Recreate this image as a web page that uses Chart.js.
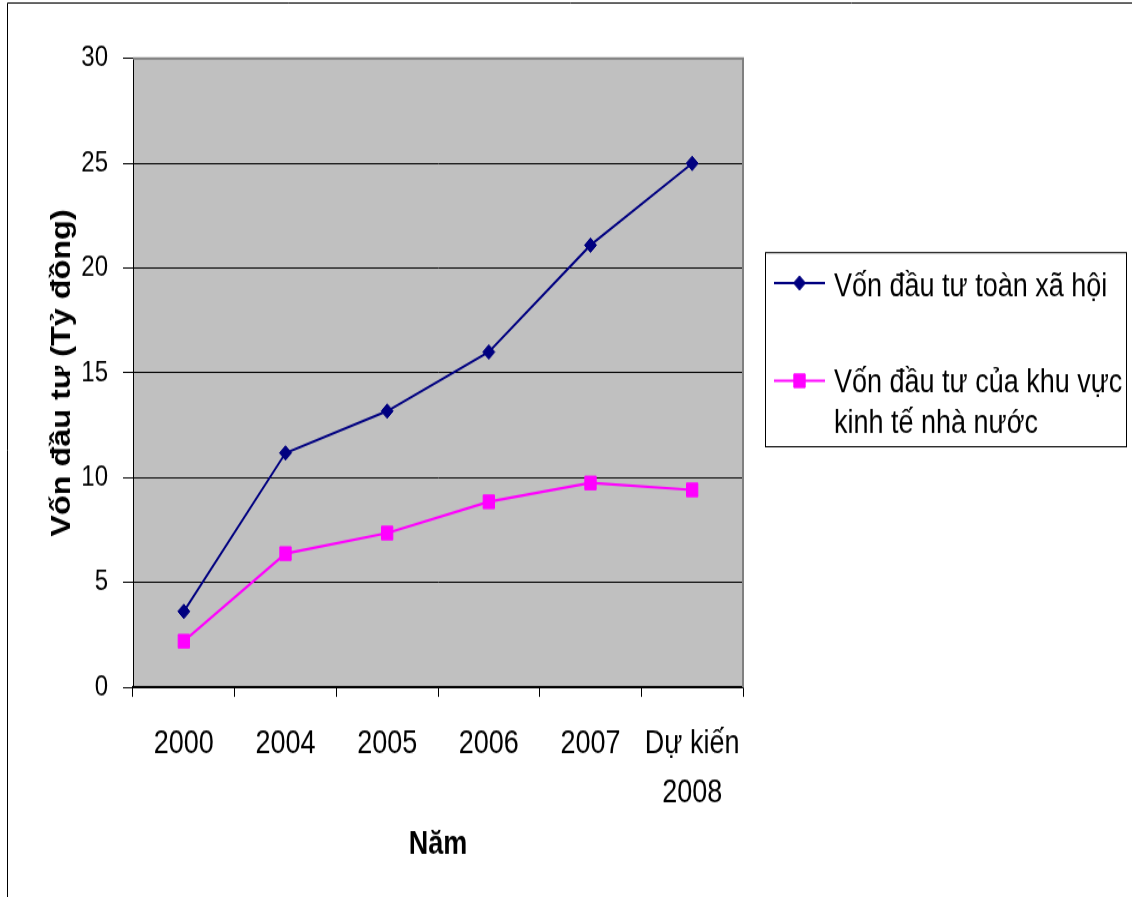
<!DOCTYPE html>
<html>
<head>
<meta charset="utf-8">
<title>Vốn đầu tư</title>
<script src="https://cdn.jsdelivr.net/npm/chart.js@4.4.1/dist/chart.umd.min.js"></script>
<style>
  html, body { margin: 0; padding: 0; background: #ffffff; overflow: hidden; }
  #wrap { position: absolute; left: 0; top: 0; width: 1132px; height: 748px;
          transform-origin: 0 0; transform: scale(1, 1.19920); }
  canvas { display: block; }
</style>
</head>
<body>
<div id="wrap"><canvas id="chart" width="1132" height="748"></canvas></div>
<script>
// ---- data ----
const categories = ['2000', '2004', '2005', '2006', '2007', ['Dự kiến', '2008']];
const totalInvestment = [3.62, 11.18, 13.18, 16.0, 21.1, 25.0];
const stateInvestment = [2.2, 6.38, 7.36, 8.85, 9.75, 9.42];
const yMin = 0, yMax = 30, yStep = 5;
const seriesNames = ['Vốn đầu tư toàn xã hội', 'Vốn đầu tư của khu vực kinh tế nhà nước'];
const xTitle = 'Năm';
const yTitle = 'Vốn đầu tư (Tỷ đồng)';

// ---- look ----
const SANS = "'Liberation Sans', Arial, Helvetica, sans-serif";
const PLOT_BG = '#c0c0c0';
const FRAME_GRAY = '#808080';

// Plot background, outer frame (left/top edges) and the grey plot border
const framePlugin = {
  id: 'frame',
  beforeDraw(chart) {
    const { ctx, chartArea: a } = chart;
    ctx.save();
    ctx.fillStyle = PLOT_BG;
    ctx.fillRect(a.left, a.top, a.right - a.left, a.bottom - a.top);
    ctx.strokeStyle = '#000';
    ctx.lineWidth = 1;
    ctx.beginPath();
    ctx.moveTo(7.5, 760);
    ctx.lineTo(7.5, 2.5);
    ctx.lineTo(1140, 2.5);
    ctx.stroke();
    ctx.restore();
  },
  beforeDatasetsDraw(chart) {
    const { ctx, chartArea: a } = chart;
    ctx.save();
    ctx.strokeStyle = FRAME_GRAY;
    ctx.lineWidth = 2;
    ctx.beginPath();
    ctx.moveTo(a.left, a.top);
    ctx.lineTo(a.right, a.top);
    ctx.lineTo(a.right, a.bottom);
    ctx.stroke();
    ctx.restore();
  }
};

// Boxed legend on the right, with wrapped series names
const legendBox = {
  id: 'legendBox',
  afterDraw(chart) {
    const { ctx } = chart;
    const box = { x: 765.5, y: 210.7, w: 361, h: 161.8 };
    const items = [
      { marker: 236.0, text: 239.5 },
      { marker: 317.5, text: 320.0 }
    ];
    const lineGap = 33.5;
    const textX = 834;
    const maxW = 290;
    ctx.save();
    ctx.strokeStyle = '#000';
    ctx.lineWidth = 1;
    ctx.strokeRect(box.x, box.y, box.w, box.h);
    ctx.font = '27px ' + SANS;
    ctx.textBaseline = 'middle';
    ctx.textAlign = 'left';
    chart.data.datasets.forEach((ds, i) => {
      const it = items[i];
      ctx.strokeStyle = ds.borderColor;
      ctx.lineWidth = ds.borderWidth;
      ctx.beginPath();
      ctx.moveTo(774, it.marker);
      ctx.lineTo(825, it.marker);
      ctx.stroke();
      ctx.fillStyle = ds.pointBackgroundColor;
      ctx.strokeStyle = ds.pointBorderColor;
      ctx.lineWidth = 1;
      Chart.helpers.drawPoint(ctx, { pointStyle: ds.pointStyle, radius: ds.pointRadius, rotation: 0, borderWidth: 1 }, 799.5, it.marker);
      // word wrap
      const words = ds.label.split(' ');
      const lines = [];
      let cur = '';
      words.forEach(w => {
        const test = cur ? cur + ' ' + w : w;
        if (ctx.measureText(test).width > maxW && cur) { lines.push(cur); cur = w; }
        else cur = test;
      });
      if (cur) lines.push(cur);
      ctx.fillStyle = '#000';
      lines.forEach((ln, k) => ctx.fillText(ln, textX, it.text + k * lineGap));
    });
    ctx.restore();
  }
};

new Chart(document.getElementById('chart'), {
  type: 'line',
  data: {
    labels: categories,
    datasets: [
      {
        label: seriesNames[0],
        data: totalInvestment,
        borderColor: '#000080',
        backgroundColor: '#000080',
        pointBackgroundColor: '#000080',
        pointBorderColor: '#000080',
        borderWidth: 2,
        pointStyle: 'rectRot',
        pointRadius: 6,
        pointBorderWidth: 1,
        tension: 0
      },
      {
        label: seriesNames[1],
        data: stateInvestment,
        borderColor: '#ff00ff',
        backgroundColor: '#ff00ff',
        pointBackgroundColor: '#ff00ff',
        pointBorderColor: '#ff00ff',
        borderWidth: 2.2,
        pointStyle: 'rect',
        pointRadius: 8,
        pointBorderWidth: 1,
        tension: 0
      }
    ]
  },
  options: {
    responsive: false,
    animation: false,
    events: [],
    layout: { padding: { left: 0, top: 48.87, right: 389, bottom: 0 } },
    plugins: {
      legend: { display: false },
      tooltip: { enabled: false },
      title: { display: false }
    },
    scales: {
      x: {
        type: 'category',
        offset: true,
        afterFit(s) { s.height = 174.9; },
        grid: {
          offset: true,
          drawOnChartArea: false,
          drawTicks: true,
          tickLength: 8,
          color: '#000',
          tickColor: '#000',
          lineWidth: 1
        },
        border: { display: true, color: '#000', width: 1.5 },
        ticks: {
          color: '#000',
          padding: 19,
          maxRotation: 0,
          autoSkip: false,
          font: { family: SANS, size: 27, lineHeight: 1.52 }
        },
        title: {
          display: true,
          text: xTitle,
          color: '#000',
          font: { family: SANS, size: 27, weight: 'bold', lineHeight: 1.2 },
          padding: { top: 0, bottom: 27.4 }
        }
      },
      y: {
        min: yMin,
        max: yMax,
        afterFit(s) { s.width = 133; },
        grid: {
          drawOnChartArea: true,
          drawTicks: true,
          tickLength: 10,
          color: '#000',
          tickColor: '#000',
          lineWidth: 1
        },
        border: { display: true, color: '#000', width: 1 },
        ticks: {
          stepSize: yStep,
          color: '#000',
          padding: 15,
          font: { family: SANS, size: 24 }
        },
        title: {
          display: true,
          text: yTitle,
          color: '#000',
          font: { family: SANS, size: 27, weight: 'bold', lineHeight: 1.2 },
          padding: { top: 46, bottom: 0 }
        }
      }
    }
  },
  plugins: [framePlugin, legendBox]
});
</script>
</body>
</html>
